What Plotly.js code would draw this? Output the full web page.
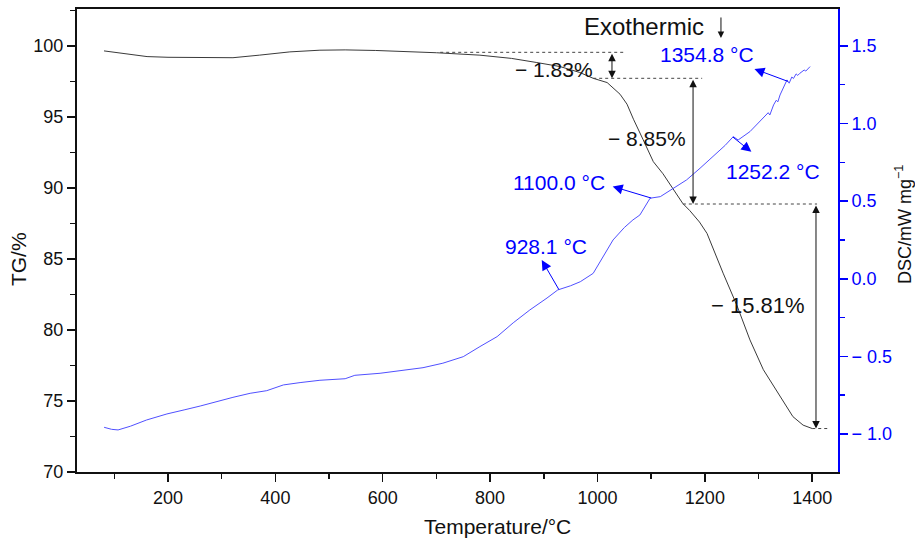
<!DOCTYPE html>
<html>
<head>
<meta charset="utf-8">
<script src="https://cdn.plot.ly/plotly-3.0.1.min.js"></script>
<style>html,body{margin:0;padding:0;background:#fff;}#chart{width:915px;height:539px;}</style>
</head>
<body>
<div id="chart"></div>
<script>
// ---- data ----
const tgTemp = [80.8,120,161,200,245,300,321,370,427,483,530,587,650,700,781,840,887,930,967,992,1018,1042,1055,1067,1085,1104,1122,1141,1159,1172,1190,1204,1220,1234,1260,1284,1309,1340,1364,1383,1400];
const tgVal  = [99.65,99.45,99.25,99.2,99.17,99.16,99.17,99.35,99.58,99.70,99.72,99.68,99.6,99.52,99.35,99.12,98.83,98.55,98.13,97.72,97.42,96.6,95.9,94.84,93.4,91.85,91.0,89.9,88.9,88.4,87.6,86.8,85.3,84.0,81.7,79.3,77.2,75.3,73.9,73.3,73.06];

const dscTemp = [81,95,107,130,160,198,230,260,321,353,384,415,446,483,530,548,595,638,675,712,750,781,813,843,874,906,926,950,968,992,1010,1029,1050,1066,1079,1092,1098,1117,1141,1166,1191,1222,1238,1253,1262,1284,1309,1318,1321,1328,1333,1336,1340,1353,1357,1362,1365,1370,1373,1377,1385,1388,1396];
const dscVal  = [-0.957,-0.97,-0.974,-0.95,-0.91,-0.871,-0.845,-0.82,-0.764,-0.738,-0.721,-0.684,-0.669,-0.654,-0.644,-0.622,-0.609,-0.592,-0.573,-0.544,-0.502,-0.437,-0.373,-0.284,-0.201,-0.124,-0.072,-0.045,-0.019,0.035,0.142,0.25,0.33,0.379,0.411,0.49,0.519,0.529,0.583,0.637,0.712,0.809,0.86,0.916,0.894,0.948,1.034,1.07,1.055,1.12,1.15,1.14,1.184,1.281,1.26,1.30,1.29,1.32,1.31,1.324,1.345,1.338,1.367];

const tgStart = 99.55;                 // initial plateau level (%)
const tgSteps = [1.83, 8.85, 15.81];   // mass-loss steps (%)
const peakTemps = [928.1, 1100.0, 1252.2, 1354.8];

const xTickVals = [200,400,600,800,1000,1200,1400];
const y2TickVals = [-1.0,-0.5,0.0,0.5,1.0,1.5];
const y2TickText = ['\u2212 1.0','\u2212 0.5','0.0','0.5','1.0','1.5'];

// ---- helpers ----
function interp(xs, ys, x){
  for(let i=0;i<xs.length-1;i++){
    if(x>=xs[i] && x<=xs[i+1]){
      const t=(x-xs[i])/(xs[i+1]-xs[i]);
      return ys[i]+t*(ys[i+1]-ys[i]);
    }
  }
  return ys[ys.length-1];
}
const levels=[tgStart];
tgSteps.forEach(s=>levels.push(+(levels[levels.length-1]-s).toFixed(2)));

const FONT = 'Liberation Sans, Arial, Helvetica, sans-serif';
const BLUE = 'rgb(0,0,255)';
const INK = '#111';

const traces = [
  {x: tgTemp, y: tgVal, type:'scatter', mode:'lines', line:{color:'#3a3a3a', width:1}, yaxis:'y', hoverinfo:'skip', showlegend:false},
  {x: dscTemp, y: dscVal, type:'scatter', mode:'lines', line:{color:'rgb(80,80,255)', width:1}, yaxis:'y2', hoverinfo:'skip', showlegend:false}
];

// dashed level lines (x extents)
const dashSpans = [[707,1049],[992,1195],[1159,1409],[1400,1428]];
const shapes = dashSpans.map((s,i)=>({type:'line', xref:'x', yref:'y', x0:s[0], x1:s[1], y0:levels[i], y1:levels[i], line:{color:'#444', width:1, dash:'3px,3px'}}));

const annotations = [];
// double arrows between TG levels
const arrowX = [1027, 1178, 1407];
arrowX.forEach((ax,i)=>{
  annotations.push({x:ax, y:levels[i+1], ax:ax, ay:levels[i], axref:'x', ayref:'y', xref:'x', yref:'y', text:'', showarrow:true,
    arrowside:'end+start', arrowhead:2, arrowsize:1.5, startarrowhead:2, startarrowsize:1.5, arrowwidth:1, arrowcolor:INK});
});
// step labels
const stepLabelPos = [[919,98.31],[1092,93.46],[1299,81.73]];
const stepFont = [21,21,22];
tgSteps.forEach((s,i)=>{
  annotations.push({x:stepLabelPos[i][0], y:stepLabelPos[i][1], xref:'x', yref:'y', text:'\u2212 '+s.toFixed(2)+'%', showarrow:false, font:{family:FONT, size:stepFont[i], color:INK}});
});
// Exothermic
annotations.push({x:1087, y:101.34, xref:'x', yref:'y', text:'Exothermic', showarrow:false, font:{family:FONT, size:24, color:INK}});
annotations.push({x:1230, y:100.56, xref:'x', yref:'y', ax:0, ay:-22, text:'', showarrow:true, arrowhead:2, arrowsize:1.3, arrowwidth:1, arrowcolor:INK});

// DSC peak labels & arrows
const peakLabelPos = [[904,0.205],[928,0.617],[1327,0.688],[1204,1.442]];
const peakArrowOff = [[-18,-31],[-40,-12],[20,16],[-35,-13]];
peakTemps.forEach((t,i)=>{
  const yv = interp(dscTemp, dscVal, t);
  annotations.push({x:t, y:yv, xref:'x', yref:'y2', ax:peakArrowOff[i][0], ay:peakArrowOff[i][1], text:'', showarrow:true,
    arrowside:'start', startarrowhead:2, startarrowsize:2, arrowwidth:1, arrowcolor:BLUE});
  annotations.push({x:peakLabelPos[i][0], y:peakLabelPos[i][1], xref:'x', yref:'y2', text:t.toFixed(1)+' \u00B0C', showarrow:false, font:{family:FONT, size:21, color:BLUE}});
});
// axis titles
annotations.push({x:0.553, y:-0.117, xref:'paper', yref:'paper', xanchor:'center', yanchor:'middle', text:'Temperature/\u00B0C', showarrow:false, font:{family:FONT, size:21, color:INK}});
annotations.push({x:-0.0775, y:0.46, xref:'paper', yref:'paper', xanchor:'center', yanchor:'middle', textangle:-90, text:'TG/%', showarrow:false, font:{family:FONT, size:21, color:INK}});
annotations.push({x:1.0854, y:0.5356, xref:'paper', yref:'paper', xanchor:'center', yanchor:'middle', textangle:-90, text:'DSC/mW mg<sup>\u22121</sup>', showarrow:false, font:{family:FONT, size:18, color:INK}});

const layout = {
  width:915, height:539,
  margin:{l:77, r:77, t:9, b:67},
  paper_bgcolor:'#fff', plot_bgcolor:'#fff',
  font:{family:FONT, size:18, color:INK},
  showlegend:false,
  xaxis:{range:[30.5,1448], showline:true, linecolor:INK, linewidth:2, mirror:true,
    ticks:'outside', ticklen:8, tickwidth:1.5, tickcolor:INK, tickmode:'array', tickvals:xTickVals,
    minor:{ticks:'outside', ticklen:5, tickwidth:1.5, tickcolor:INK, dtick:100, tick0:0},
    showgrid:false, zeroline:false, tickfont:{family:FONT, size:18, color:INK}},
  yaxis:{range:[70,102.6], showline:true, linecolor:INK, linewidth:2,
    ticks:'outside', ticklen:8, tickwidth:1.5, tickcolor:INK, dtick:5, tick0:70,
    minor:{ticks:'outside', ticklen:5, tickwidth:1.5, tickcolor:INK, dtick:2.5, tick0:70},
    showgrid:false, zeroline:false, tickfont:{family:FONT, size:18, color:INK}},
  yaxis2:{range:[-1.245,1.738], overlaying:'y', side:'right', showline:true, linecolor:BLUE, linewidth:2,
    ticks:'outside', ticklen:8, tickwidth:1.5, tickcolor:BLUE, tickmode:'array', tickvals:y2TickVals, ticktext:y2TickText,
    minor:{ticks:'outside', ticklen:5, tickwidth:1.5, tickcolor:BLUE, tickmode:'array', tickvals:[-1.25,-0.75,-0.25,0.25,0.75,1.25]},
    showgrid:false, zeroline:false, tickfont:{family:FONT, size:18, color:BLUE}},
  shapes:shapes,
  annotations:annotations
};

Plotly.newPlot('chart', traces, layout, {staticPlot:true, displayModeBar:false});
</script>
</body>
</html>
